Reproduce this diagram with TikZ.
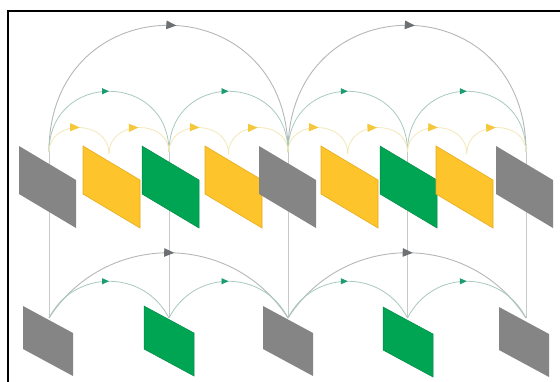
\documentclass[tikz,border=0pt]{standalone}
\usetikzlibrary{arrows.meta,decorations.markings}

\definecolor{framegray}{HTML}{858585}
\definecolor{frameyellow}{HTML}{FDC42B}
\definecolor{edgeyellow}{HTML}{E6AC1E}
\definecolor{framegreen}{HTML}{00A553}
\definecolor{edgegreen}{HTML}{008A48}
\definecolor{linegray}{HTML}{C9C9C9}
\definecolor{arcgray}{HTML}{B5B8BA}
\definecolor{arcgreen}{HTML}{A9CABD}
\definecolor{arcyellow}{HTML}{F4E8B8}
\definecolor{tipgray}{HTML}{6E6F72}
\definecolor{tipgreen}{HTML}{1A9B70}
\definecolor{tipyellow}{HTML}{F5C73A}

\tikzset{
  linkline/.style={draw=linegray, line width=0.9pt},
  grayarc/.style={draw=arcgray, line width=0.9pt,
    postaction={decorate, decoration={markings,
      mark=at position 0.52 with {\arrow{Triangle[length=10pt,width=8.5pt,color=tipgray]}}}}},
  greenarc/.style={draw=arcgreen, line width=0.8pt,
    postaction={decorate, decoration={markings,
      mark=at position 0.5 with {\arrow{Triangle[length=7pt,width=6pt,color=tipgreen]}}}}},
  yellowarc/.style={draw=arcyellow, line width=0.8pt,
    postaction={decorate, decoration={markings,
      mark=at position 0.5 with {\arrow{Triangle[length=9.5pt,width=8pt,color=tipyellow]}}}}},
  grayframe/.style={fill=framegray},
  yellowframe/.style={fill=frameyellow, draw=edgeyellow, line width=0.6pt},
  greenframe/.style={fill=framegreen, draw=edgegreen, line width=0.5pt},
  topframe/.pic={\path[pic actions] (0,0) -- (57,34) -- (57,82) -- (0,48) -- cycle;},
  lowframe/.pic={\path[pic actions] (0,0) -- (50,27) -- (50,70) -- (0,43) -- cycle;},
}

\begin{document}
\begin{tikzpicture}[x=1pt,y=-1pt]
  \useasboundingbox (0,0) rectangle (560,381);
  \clip (0,0) rectangle (560,381);
  \fill[white] (0,0) rectangle (560,381);

  % anchor points of the upper and lower rows
  \coordinate (t0) at (49,152);
  \coordinate (t1) at (169,152);
  \coordinate (t2) at (288,152);
  \coordinate (t3) at (407.5,152);
  \coordinate (t4) at (526,152);
  \coordinate (m0) at (109,154);
  \coordinate (m1) at (228.5,154);
  \coordinate (m2) at (347.75,154);
  \coordinate (m3) at (466.75,154);
  \coordinate (b0) at (49,318);
  \coordinate (b1) at (169,318);
  \coordinate (b2) at (288,318);
  \coordinate (b3) at (407.5,318);
  \coordinate (b4) at (526,318);

  % vertical links between the rows
  \foreach \i in {0,...,4} { \draw[linkline] (t\i) -- (b\i); }

  % upper row: long arcs
  \draw[grayarc] (t0) .. controls +(0,-169) and +(0,-169) .. (t2);
  \draw[grayarc] (t2) .. controls +(0,-169) and +(0,-169) .. (t4);
  % upper row: medium arcs
  \draw[greenarc] (t0) .. controls +(0,-81) and +(0,-81) .. (t1);
  \draw[greenarc] (t1) .. controls +(0,-81) and +(0,-81) .. (t2);
  \draw[greenarc] (t2) .. controls +(0,-81) and +(0,-81) .. (t3);
  \draw[greenarc] (t3) .. controls +(0,-81) and +(0,-81) .. (t4);
  % upper row: short arcs
  \draw[yellowarc] (t0) .. controls +(0,-33) and +(0,-35) .. (m0);
  \draw[yellowarc] (m0) .. controls +(0,-35) and +(0,-33) .. (t1);
  \draw[yellowarc] (t1) .. controls +(0,-33) and +(0,-35) .. (m1);
  \draw[yellowarc] (m1) .. controls +(0,-35) and +(0,-33) .. (t2);
  \draw[yellowarc] (t2) .. controls +(0,-33) and +(0,-35) .. (m2);
  \draw[yellowarc] (m2) .. controls +(0,-35) and +(0,-33) .. (t3);
  \draw[yellowarc] (t3) .. controls +(0,-33) and +(0,-35) .. (m3);
  \draw[yellowarc] (m3) .. controls +(0,-35) and +(0,-33) .. (t4);

  % lower row arcs
  \draw[grayarc] (b0) .. controls +(56,-87) and +(-56,-87) .. (b2);
  \draw[grayarc] (b2) .. controls +(56,-87) and +(-56,-87) .. (b4);
  \draw[greenarc] (b0) .. controls +(25,-49) and +(-25,-49) .. (b1);
  \draw[greenarc] (b1) .. controls +(25,-49) and +(-25,-49) .. (b2);
  \draw[greenarc] (b2) .. controls +(25,-49) and +(-25,-49) .. (b3);
  \draw[greenarc] (b3) .. controls +(25,-49) and +(-25,-49) .. (b4);

  % upper row frames
  \pic (ug1) [grayframe]   at (19,146)  {topframe};
  \pic (uy1) [yellowframe] at (83,146)  {topframe};
  \pic (un1) [greenframe]  at (142,146) {topframe};
  \pic (uy2) [yellowframe] at (205,146) {topframe};
  \pic (ug2) [grayframe]   at (259,146) {topframe};
  \pic (uy3) [yellowframe] at (321,146) {topframe};
  \pic (un2) [greenframe]  at (380,146) {topframe};
  \pic (uy4) [yellowframe] at (436,146) {topframe};
  \pic (ug3) [grayframe]   at (496,146) {topframe};

  % lower row frames
  \pic (lg1) [grayframe]  at (23,306)  {lowframe};
  \pic (ln1) [greenframe] at (144,306) {lowframe};
  \pic (lg2) [grayframe]  at (263,306) {lowframe};
  \pic (ln2) [greenframe] at (383,307) {lowframe};
  \pic (lg3) [grayframe]  at (499,307) {lowframe};

  % outer frame line
  \draw[line width=2pt, line join=miter] (7.7,400) -- (7.7,11.2) -- (600,11.2);
\end{tikzpicture}
\end{document}
